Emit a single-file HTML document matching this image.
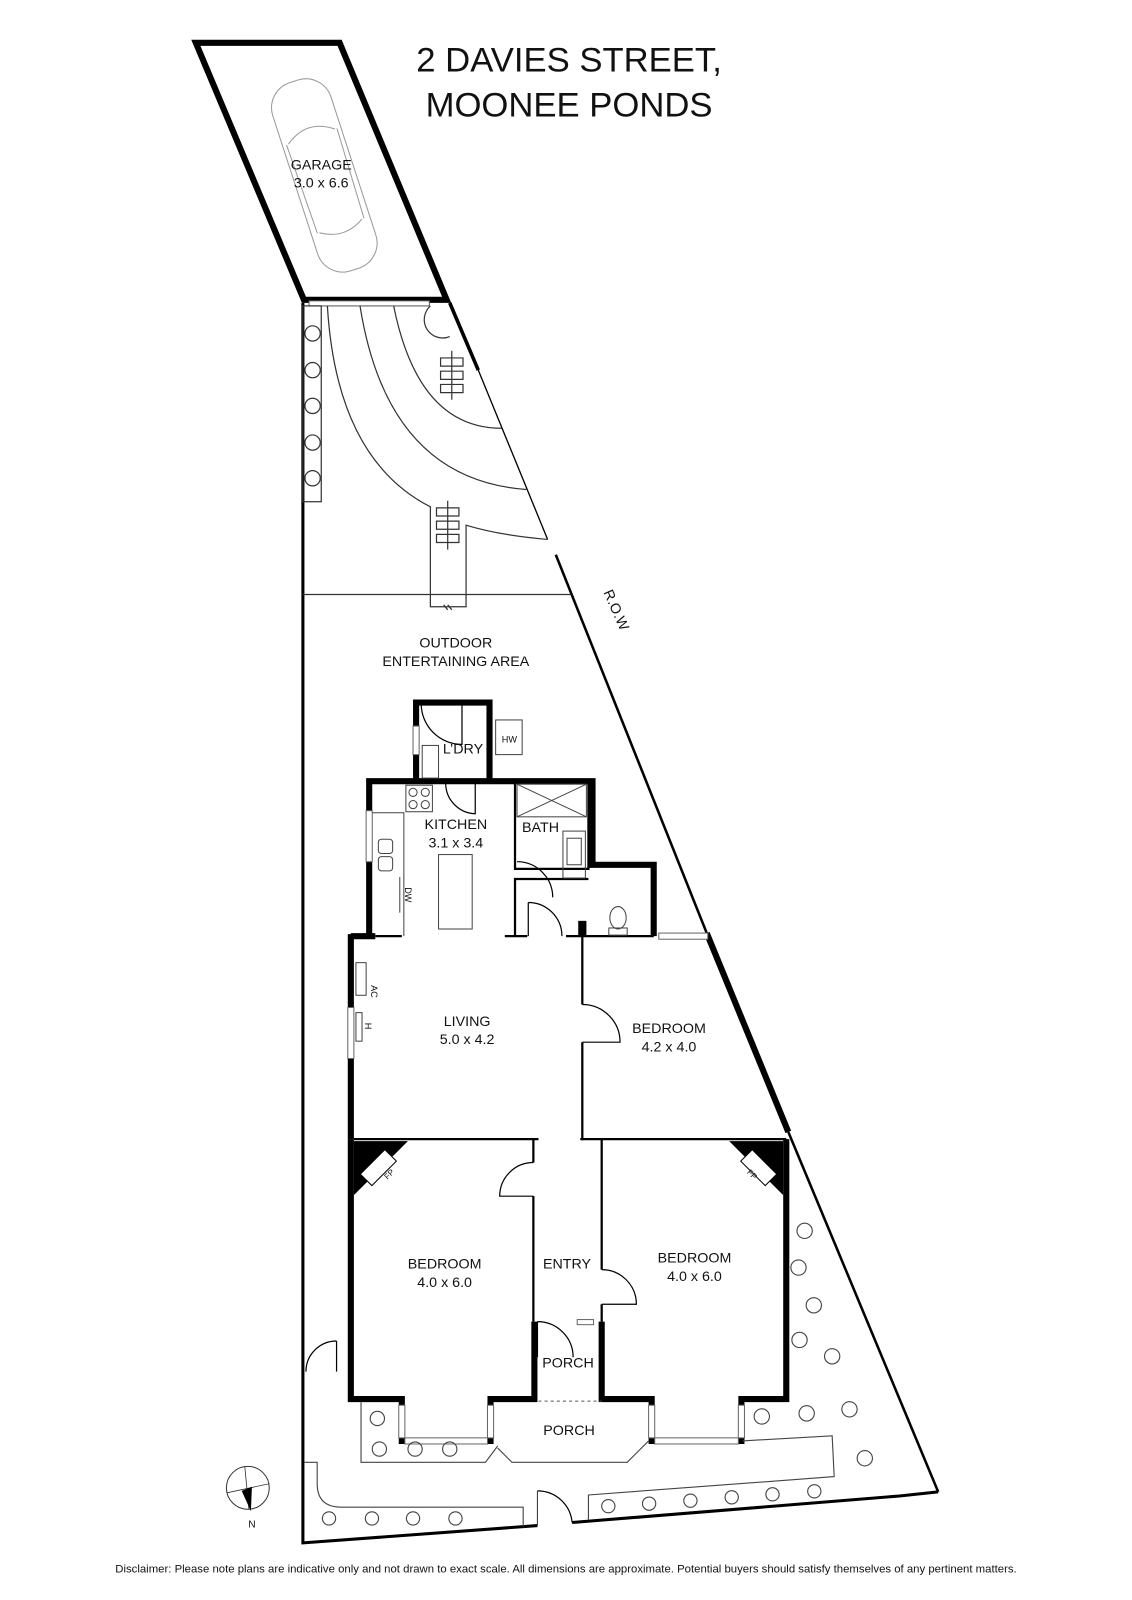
<!DOCTYPE html>
<html><head><meta charset="utf-8"><style>
html,body{margin:0;padding:0;background:#fff}
svg{display:block}
text{font-family:"Liberation Sans",Arial,sans-serif;fill:#111}
</style></head><body>
<svg width="1132" height="1600" viewBox="0 0 1110 1569" xmlns="http://www.w3.org/2000/svg">
<rect width="1110" height="1569" fill="#fff"/>
<text x="558" y="70" font-size="34" text-anchor="middle">2 DAVIES STREET,</text>
<text x="558" y="114" font-size="34" text-anchor="middle">MOONEE PONDS</text>

<polygon points="192,42 333,42 438,294 298,294" fill="none" stroke="#000" stroke-width="6"/>
<g transform="translate(318,172) rotate(-18)" fill="none" stroke="#999" stroke-width="1">
  <rect x="-30" y="-97" width="60" height="194" rx="26"/>
  <path d="M-24,-40 Q0,-58 24,-40 M-22,52 Q0,66 22,52 M-26,-40 L-24,52 M26,-40 L24,52"/>
</g>
<text x="315" y="166" font-size="14" text-anchor="middle">GARAGE</text>
<text x="315" y="184" font-size="14" text-anchor="middle">3.0 x 6.6</text>
<rect x="303" y="295" width="118" height="5" fill="#fff" stroke="#555" stroke-width="1"/>

<g fill="none" stroke="#000">
<path d="M297,297 L297,1513 L527,1496" stroke-width="3"/>
<path d="M561,1493 L882,1467 L920,1463" stroke-width="3"/>
<path d="M441,297 L469,363" stroke-width="3.5"/>
<path d="M469,363 L537,529" stroke-width="1.3"/>
<path d="M545,544 L693,915" stroke-width="2.5"/>
<path d="M693,915 L773,1110" stroke-width="6"/>
<path d="M773,1110 L920,1463" stroke-width="2.5"/>
</g>
<g fill="none" stroke="#333" stroke-width="1.2">
<path d="M321,300 Q330,450 422,497 L422,595 L457,595 L457,515 Q490,525 537,529"/>
<path d="M353,300 Q380,470 516,480"/>
<path d="M386,300 Q410,420 492,420"/>
<path d="M297,583 L560,583"/>
<path d="M422,300 A18,18 0 0 0 441,330"/>
<rect x="297" y="300" width="18" height="192"/>
<circle cx="306.5" cy="327" r="7.5"/><circle cx="306.5" cy="363" r="7.5"/><circle cx="306.5" cy="398" r="7.5"/><circle cx="306.5" cy="434" r="7.5"/><circle cx="306.5" cy="469" r="7.5"/>
<path d="M432,351 h22 v8 h-22z M432,364 h22 v8 h-22z M432,377 h22 v8 h-22z M443,344 v48"/>
<path d="M428,498 h22 v8 h-22z M428,511 h22 v8 h-22z M428,524 h22 v8 h-22z M439,491 v48"/>
<path d="M439,598 l-4,-5 M439,593 l4,5"/>
</g>
<text x="600" y="600" font-size="14" text-anchor="middle" transform="rotate(66 600 600)">R.O.W</text>
<text x="447" y="635" font-size="14" text-anchor="middle">OUTDOOR</text>
<text x="447" y="653" font-size="14" text-anchor="middle">ENTERTAINING AREA</text>

<g fill="none" stroke="#000" stroke-width="6" stroke-linejoin="miter">
<path d="M408,765 L408,689 L480,689 L480,765"/>
<path d="M362,918 L362,766 L581,766 L581,848 L641,848 L641,918"/>
<path d="M344,918 L368,918"/>
<path d="M344,916 L344,1117"/>
<path d="M344,1117 L344,1372 L394,1372 L394,1413 L481,1413 L481,1372 L524,1372 L524,1296"/>
<path d="M590,1296 L590,1372 L639,1372 L639,1413 L727,1413 L727,1372 L771,1372 L771,1117"/>
</g>
<g fill="#fff" stroke="#666" stroke-width="1">
<rect x="405" y="712" width="6" height="28"/>
<rect x="359" y="795" width="6" height="50"/>
<rect x="341" y="988" width="6" height="50"/>
<rect x="397" y="1410" width="81" height="6"/>
<rect x="642" y="1410" width="82" height="6"/>
<rect x="391" y="1378" width="6" height="32"/>
<rect x="478" y="1378" width="6" height="32"/>
<rect x="636" y="1378" width="6" height="32"/>
<rect x="724" y="1378" width="6" height="32"/>
<rect x="646" y="915" width="48" height="6"/>
<rect x="566" y="1294" width="16" height="5"/>
</g>
<g fill="none" stroke="#000" stroke-width="2.2">
<path d="M368,918 L394,918 M495,918 L517,918 M505,918 L505,862 L577,862 M505,766 L505,852 L577,852 L577,766"/>
<path d="M555,918 L641,918"/>
<path d="M571,918 L571,985 M571,1022 L571,1117 L771,1117"/>
<path d="M347,1117 L528,1117 M569,1117 L571,1117"/>
<path d="M523,1117 L523,1140 M523,1173 L523,1296"/>
<path d="M590,1117 L590,1245 M590,1279 L590,1296"/>
</g>
<rect x="567" y="903" width="8" height="15" fill="#000"/>
<path d="M528,1374 L590,1374" stroke="#555" stroke-width="1" stroke-dasharray="3,3"/>
<g fill="none" stroke="#000" stroke-width="1.2">
<path d="M413,690 A40,40 0 0 0 453,730 L453,690"/>
<path d="M437,768 A30,30 0 0 0 466,798 L466,768"/>
<path d="M507,845 A35,35 0 0 1 542,880"/>
<path d="M518,885 A33,33 0 0 1 551,918 M518,885 L518,918"/>
<path d="M571,985 A37,37 0 0 1 608,1022 L571,1022"/>
<path d="M523,1140 A33,33 0 0 0 490,1173 L523,1173"/>
<path d="M590,1245 A34,34 0 0 1 624,1279 L590,1279"/>
<path d="M527,1296 A35,35 0 0 1 562,1331 M527,1296 L527,1331"/>
<path d="M330,1315 A30,30 0 0 0 300,1345 M330,1315 L330,1345"/>
<path d="M527,1462 A34,34 0 0 1 561,1493"/>
</g>
<polygon points="347,1119 400,1119 347,1172" fill="#000"/>
<rect x="354" y="1137" width="34" height="16" fill="#fff" stroke="#000" transform="rotate(-45 371 1145)"/>
<text x="380" y="1157" font-size="8" transform="rotate(-45 380 1157)">FP</text>
<polygon points="768,1119 715,1119 768,1172" fill="#000"/>
<rect x="727" y="1137" width="34" height="16" fill="#fff" stroke="#000" transform="rotate(45 744 1145)"/>
<text x="732" y="1150" font-size="8" transform="rotate(45 732 1150)">FP</text>

<g fill="none" stroke="#444" stroke-width="1">
<rect x="486" y="706" width="26" height="34"/>
<rect x="414" y="731" width="16" height="32"/>
<rect x="398" y="770" width="26" height="26"/>
<circle cx="405" cy="777" r="4"/><circle cx="417" cy="777" r="4"/><circle cx="405" cy="789" r="4"/><circle cx="417" cy="789" r="4"/>
<path d="M365,797 L396,797 L396,918"/>
<rect x="371" y="823" width="14" height="14" rx="3"/><rect x="371" y="840" width="14" height="14" rx="3"/>
<path d="M392,860 L392,895"/>
<rect x="430" y="838" width="33" height="73"/>
<rect x="507" y="769" width="68" height="32"/>
<path d="M507,769 L575,801 M575,769 L507,801"/>
<rect x="552" y="815" width="22" height="46"/><rect x="556" y="822" width="14" height="26"/>
<ellipse cx="606" cy="900" rx="8" ry="11"/><rect x="597" y="910" width="18" height="7"/>
<rect x="349" y="944" width="10" height="32"/>
<rect x="349" y="993" width="6" height="28"/>
</g>
<text x="370" y="960" font-size="9" transform="rotate(90 364 960)">AC</text>
<text x="358" y="1003" font-size="9" transform="rotate(90 358 1003)">H</text>
<text x="397" y="870" font-size="9" transform="rotate(90 397 870)">DW</text>
<text x="492" y="728" font-size="9">HW</text>

<g font-size="14" text-anchor="middle">
<text x="454" y="739">L’DRY</text>
<text x="447" y="813">KITCHEN</text><text x="447" y="831">3.1 x 3.4</text>
<text x="530" y="816">BATH</text>
<text x="458" y="1006">LIVING</text><text x="458" y="1024">5.0 x 4.2</text>
<text x="656" y="1013">BEDROOM</text><text x="656" y="1031">4.2 x 4.0</text>
<text x="436" y="1244">BEDROOM</text><text x="436" y="1262">4.0 x 6.0</text>
<text x="556" y="1244">ENTRY</text>
<text x="681" y="1238">BEDROOM</text><text x="681" y="1256">4.0 x 6.0</text>
<text x="557" y="1341">PORCH</text>
<text x="558" y="1407">PORCH</text>
</g>

<g fill="none" stroke="#444" stroke-width="1.1">
<path d="M354,1375 L354,1434 L476,1434 L488,1418"/>
<path d="M488,1420 L502,1434 L615,1434 L636,1413"/>
<path d="M728,1413 L816,1408 L818,1448 L577,1466 L577,1490"/>
<path d="M298,1434 L311,1434 L311,1455 Q311,1478 335,1478 L513,1478 L513,1497"/>
<path d="M527,1496 L527,1462"/>
<circle cx="322.6" cy="1489" r="6.5"/><circle cx="364.7" cy="1489" r="6.5"/><circle cx="405" cy="1489" r="6.5"/><circle cx="446.6" cy="1489" r="6.5"/>
<circle cx="596.5" cy="1477" r="6.5"/><circle cx="636.5" cy="1474.5" r="6.5"/><circle cx="677" cy="1471.6" r="6.5"/><circle cx="717.5" cy="1468.3" r="6.5"/><circle cx="757.5" cy="1465.4" r="6.5"/><circle cx="798.5" cy="1462.4" r="6.5"/>
<circle cx="370" cy="1391" r="7"/><circle cx="372" cy="1421" r="7"/><circle cx="407" cy="1421" r="7"/><circle cx="441" cy="1421" r="7"/>
<circle cx="747" cy="1389" r="7.5"/><circle cx="791" cy="1386" r="7.5"/><circle cx="833" cy="1382" r="7.5"/><circle cx="848" cy="1430" r="7.5"/>
<circle cx="789" cy="1207" r="7.5"/><circle cx="783" cy="1243" r="7.5"/><circle cx="798" cy="1280" r="7.5"/><circle cx="784" cy="1314" r="7.5"/><circle cx="816" cy="1330" r="7.5"/>
</g>
<circle cx="243" cy="1459" r="21" fill="none" stroke="#333" stroke-width="1"/>
<path d="M240,1438 L244,1480 M222,1464 L264,1455" stroke="#333" stroke-width="0.8"/>
<polygon points="237,1462 247,1458 246,1482" fill="#000"/>
<text x="247" y="1498" font-size="10" text-anchor="middle">N</text>

<text x="555" y="1542" font-size="11" text-anchor="middle" textLength="884" lengthAdjust="spacingAndGlyphs">Disclaimer: Please note plans are indicative only and not drawn to exact scale. All dimensions are approximate. Potential buyers should satisfy themselves of any pertinent matters.</text>
</svg>
</body></html>
